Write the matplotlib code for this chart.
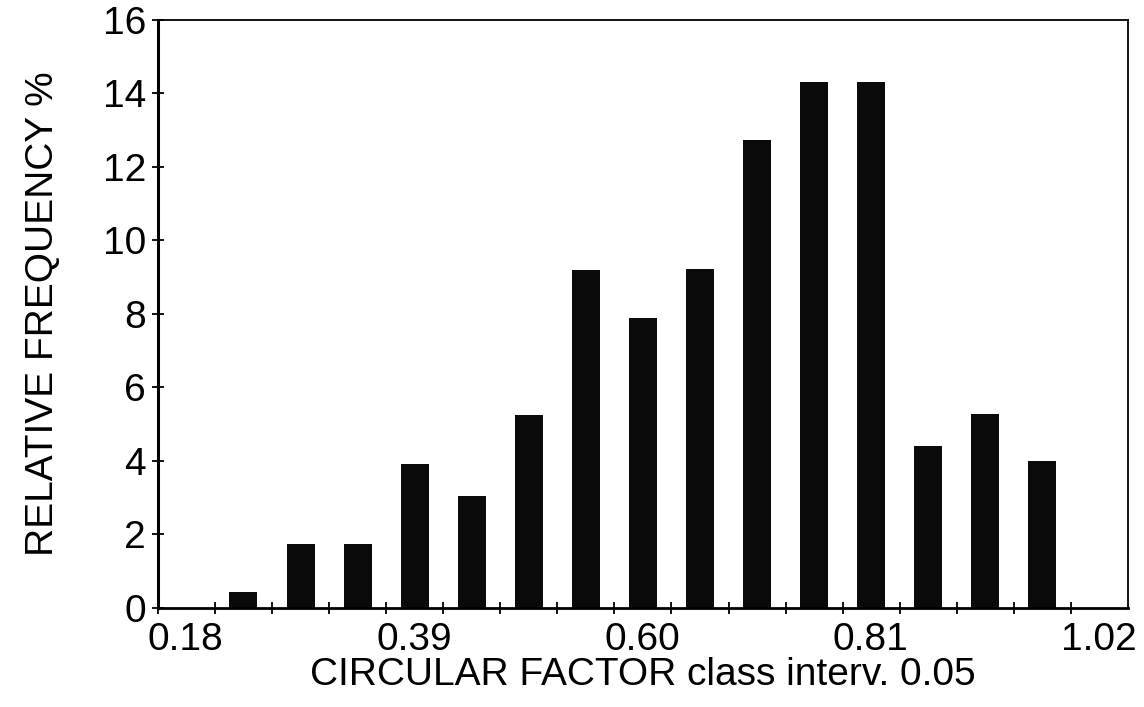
import numpy as np
import matplotlib
matplotlib.use("Agg")
import matplotlib.pyplot as plt
from matplotlib.transforms import ScaledTranslation

plt.rcParams['font.family'] = ['Liberation Sans', 'DejaVu Sans']

# class boundaries of the circular factor (axis drawn from 0.18 to 1.02, 16 steps)
edges = np.linspace(0.18, 1.02, 17)
step = edges[1] - edges[0]

# relative frequency (%) of classes 2..16 (first class empty)
freq = [0.43, 1.74, 1.74, 3.92, 3.06, 5.25, 9.20, 7.88, 9.23, 12.73,
        14.30, 14.32, 4.41, 5.29, 3.99]

xtick_vals = [0.18, 0.39, 0.60, 0.81, 1.02]
xtick_labels = ["0.18", "0.39", "0.60", "0.81", "1.02"]
ytick_vals = [0, 2, 4, 6, 8, 10, 12, 14, 16]

centers = edges[1:1 + len(freq)] + step / 2

fig = plt.figure(figsize=(11.44, 7.07), dpi=100)
ax = fig.add_axes([0.138, 0.140, 0.848, 0.832])

ax.bar(centers, freq, width=step * 0.49, color='#0a0a0a', edgecolor='none')

ax.set_xlim(0.18, 1.02 + step)
ax.set_ylim(0, 16)

ax.set_xticks(edges)
ax.set_xticklabels([])
ax.set_yticks(ytick_vals)

# old plotter style: x labels start just left of their tick
shift = ax.get_xaxis_transform() + ScaledTranslation(-0.10, -0.14, fig.dpi_scale_trans)
for v, s in zip(xtick_vals, xtick_labels):
	ax.text(v, 0, s, transform=shift, ha='left', va='top', fontsize=28)

ax.tick_params(axis='both', which='both', direction='inout', length=9, width=1.3,
	color='black', labelsize=28)
ax.tick_params(axis='y', pad=4)

for s in ax.spines.values():
	s.set_linewidth(1.3)
ax.spines['left'].set_linewidth(2.2)
ax.spines['bottom'].set_linewidth(2.0)

ax.set_xlabel("CIRCULAR FACTOR class interv. 0.05", fontsize=28, labelpad=27)
ax.set_ylabel("RELATIVE FREQUENCY %", fontsize=28, labelpad=30)

fig.savefig("out.png", dpi=100)
